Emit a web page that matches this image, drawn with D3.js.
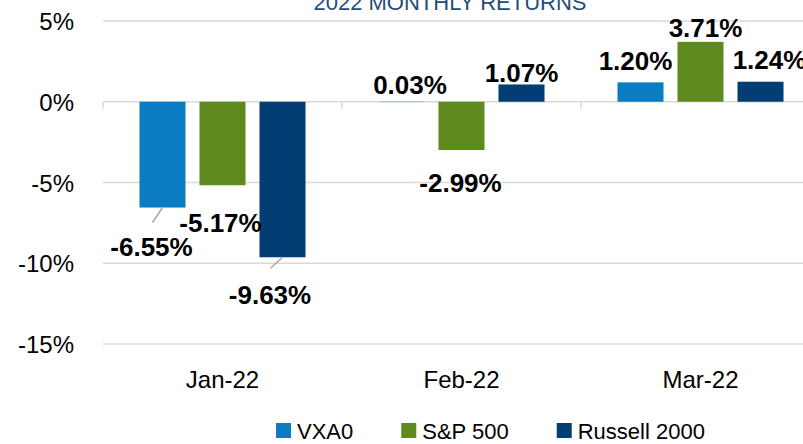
<!DOCTYPE html>
<html>
<head>
<meta charset="utf-8">
<script src="https://cdn.jsdelivr.net/npm/d3@7"></script>
<style>
    body { margin: 0; background: #fff; }
    svg { display: block; font-family: "Liberation Sans", Arial, sans-serif; }
</style>
</head>
<body>
<svg id="chart" width="803" height="444"></svg>
<script>
// chart values
var months = ["Jan-22", "Feb-22", "Mar-22"];
var seriesNames = ["VXA0", "S&P 500", "Russell 2000"];
var vxa0 = [-6.55, 0.03, 1.20];
var sp500 = [-5.17, -2.99, 3.71];
var russell = [-9.63, 1.07, 1.24];
var yTicks = [5, 0, -5, -10, -15];

var colors = ["#0a7dc2", "#5e8a1e", "#023e73"];

// label nudges (label centre relative to bar end)
var labelShift = [
    [[-11, 39.5], [8.5, -17], [-5, -22]],
    [[-2, 37], [-1, 33], [5, -14]],
    [[-12.5, 37], [0, -11.5], [9, -22]]
];
// leader lines on two Jan labels
var leaders = [
    { s: 0, m: 0, dx: -10, dy: 15 },
    { s: 2, m: 0, dx: -12, dy: 11 }
];

var chart = {
    left: 103,
    right: 820,
    top: 21,
    bottom: 344
};

var svg = d3.select("#chart");

var rows = months.map(function (m, i) {
    return { month: m, values: [vxa0[i], sp500[i], russell[i]] };
});

var x = d3.scaleBand()
    .domain(months)
    .range([chart.left, chart.right])
    .padding(0);

var xInner = d3.scaleBand()
    .domain(d3.range(seriesNames.length))
    .range([0, x.bandwidth()])
    .paddingInner(0.233)
    .paddingOuter(0.608);

var y = d3.scaleLinear()
    .domain([-15, 5])
    .range([chart.bottom, chart.top]);

// title (cut off by the top edge)
svg.append("text")
    .attr("x", 450)
    .attr("y", 10)
    .attr("text-anchor", "middle")
    .attr("font-size", "22px")
    .attr("fill", "#1f4e79")
    .text("2022 MONTHLY RETURNS");

// gridlines
svg.append("g")
    .selectAll("line")
    .data(yTicks)
    .enter().append("line")
    .attr("x1", chart.left)
    .attr("x2", chart.right)
    .attr("y1", function (d) { return y(d); })
    .attr("y2", function (d) { return y(d); })
    .attr("stroke", "#d9d9d9")
    .attr("stroke-width", 1.5);

// y axis labels
var yAxis = d3.axisLeft(y)
    .tickValues(yTicks)
    .tickSize(0)
    .tickPadding(29)
    .tickFormat(function (d) { return d + "%"; });

var gy = svg.append("g")
    .attr("transform", "translate(" + chart.left + ",0)")
    .call(yAxis);
gy.select(".domain").remove();
gy.selectAll("text")
    .attr("font-family", "Liberation Sans, Arial, sans-serif")
    .attr("font-size", "24px")
    .attr("fill", "#000")
    .attr("dy", "0.36em");

// category boundary ticks on the zero line
var bounds = months.map(function (m) { return x(m); }).concat([chart.right]);
svg.append("g")
    .selectAll("line")
    .data(bounds)
    .enter().append("line")
    .attr("x1", function (d) { return d; })
    .attr("x2", function (d) { return d; })
    .attr("y1", y(0))
    .attr("y2", y(0) + 7)
    .attr("stroke", "#d9d9d9")
    .attr("stroke-width", 1.5);

// x axis labels, low position
var xAxis = d3.axisBottom(x).tickSize(0).tickPadding(27);
var gx = svg.append("g")
    .attr("transform", "translate(0," + chart.bottom + ")")
    .call(xAxis);
gx.select(".domain").remove();
gx.selectAll("text")
    .attr("font-family", "Liberation Sans, Arial, sans-serif")
    .attr("font-size", "24px")
    .attr("fill", "#000");

// bars
var groups = svg.append("g")
    .selectAll("g")
    .data(rows)
    .enter().append("g")
    .attr("transform", function (d) { return "translate(" + x(d.month) + ",0)"; });

groups.selectAll("rect")
    .data(function (d, mi) {
        return d.values.map(function (v, si) { return { v: v, s: si, m: mi }; });
    })
    .enter().append("rect")
    .attr("x", function (d) { return xInner(d.s); })
    .attr("width", xInner.bandwidth())
    .attr("y", function (d) { return Math.min(y(d.v), y(0)); })
    .attr("height", function (d) { return Math.max(Math.abs(y(d.v) - y(0)), 1); })
    .attr("fill", function (d) { return Math.abs(d.v) < 0.1 ? "#9dc3e6" : colors[d.s]; });

// leader lines
svg.append("g")
    .selectAll("line")
    .data(leaders)
    .enter().append("line")
    .attr("x1", function (d) { return x(months[d.m]) + xInner(d.s) + xInner.bandwidth() / 2; })
    .attr("y1", function (d) { return y(rows[d.m].values[d.s]); })
    .attr("x2", function (d) { return x(months[d.m]) + xInner(d.s) + xInner.bandwidth() / 2 + d.dx; })
    .attr("y2", function (d) { return y(rows[d.m].values[d.s]) + d.dy; })
    .attr("stroke", "#a6a6a6")
    .attr("stroke-width", 1.5);

// data labels
groups.selectAll("text.lbl")
    .data(function (d, mi) {
        return d.values.map(function (v, si) { return { v: v, s: si, m: mi }; });
    })
    .enter().append("text")
    .attr("class", "lbl")
    .attr("x", function (d) { return xInner(d.s) + xInner.bandwidth() / 2 + labelShift[d.s][d.m][0]; })
    .attr("y", function (d) { return y(d.v) + labelShift[d.s][d.m][1] + 9.3; })
    .attr("text-anchor", "middle")
    .attr("font-size", "26px")
    .attr("font-weight", "bold")
    .attr("fill", "#000")
    .text(function (d) { return d.v.toFixed(2) + "%"; });

// legend
var legend = svg.append("g").attr("transform", "translate(276,431)");
var lx = 0;
seriesNames.forEach(function (name, i) {
    var item = legend.append("g").attr("transform", "translate(" + lx + ",0)");
    item.append("rect")
        .attr("x", 0)
        .attr("y", -8)
        .attr("width", 15)
        .attr("height", 15)
        .attr("fill", colors[i]);
    var t = item.append("text")
        .attr("x", 21)
        .attr("y", 8)
        .attr("font-size", "22px")
        .attr("fill", "#000")
        .text(name);
    lx += 21 + t.node().getComputedTextLength() + 48;
});
</script>
</body>
</html>
